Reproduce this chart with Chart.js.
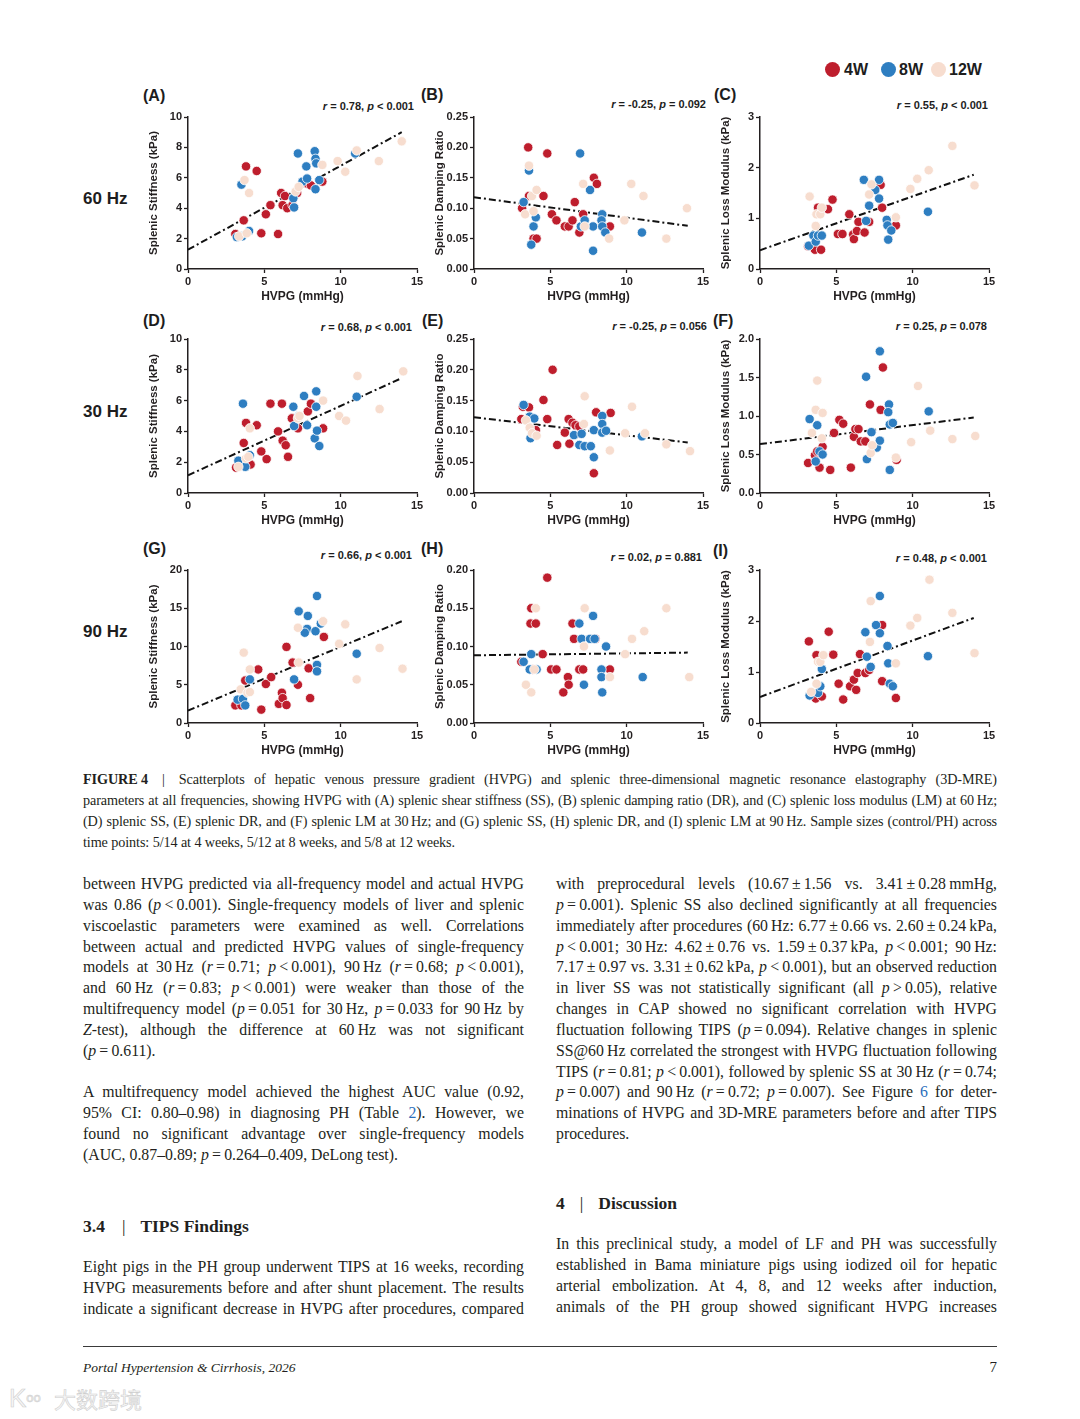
<!DOCTYPE html>
<html>
<head>
<meta charset="utf-8">
<title>Figure 4</title>
<script src="https://cdn.jsdelivr.net/npm/chart.js@4.4.1/dist/chart.umd.min.js"></script>
<style>
	body { margin: 0; background: #fff; }
	#page { position: relative; width: 1080px; height: 1419px; overflow: hidden; font-family: "Liberation Serif", "Times New Roman", serif; color: #231f20; }
	.abs { position: absolute; }
	.sans { font-family: "Liberation Sans", Arial, sans-serif; font-weight: bold; color: #1d1d1d; }
	.plab { font-size: 16px; line-height: 16px; }
	.rtxt { font-size: 11px; line-height: 14px; white-space: nowrap; text-align: right; }
	.freq { font-size: 17px; line-height: 18px; }
	.dot { width: 15px; height: 15px; border-radius: 50%; }
	.leg { font-size: 16px; line-height: 18px; }
	.cap { left: 83px; width: 914px; font-size: 14.2px; line-height: 21px; letter-spacing: -0.1px; }
	.col { width: 441px; font-size: 15.8px; line-height: 20.85px; }
	.j { white-space: nowrap; text-align: justify; text-align-last: justify; }
	.l { white-space: nowrap; }
	.nb { display: inline-block; white-space: nowrap; }
	.blue { color: #2a6ebb; }
	.hd { font-weight: bold; font-size: 17.5px; line-height: 22px; white-space: nowrap; }
	.sep { display: inline-block; margin: 0 14px 0 14px; font-weight: normal; }
	.wm { font-family: "Noto Sans CJK SC", sans-serif; color: #f6f6f6; -webkit-text-stroke: 0.6px #cfcfcf; }
</style>
</head>
<body>
<div id="page">

	<!-- leyenda -->
	<div class="abs dot" id="d4" style="left:825px;top:62px;"></div>
	<div class="abs sans leg" style="left:844px;top:61px;">4W</div>
	<div class="abs dot" id="d8" style="left:881px;top:62px;"></div>
	<div class="abs sans leg" style="left:899px;top:61px;">8W</div>
	<div class="abs dot" id="d12" style="left:931px;top:62px;"></div>
	<div class="abs sans leg" style="left:949px;top:61px;">12W</div>

	<!-- frecuencias -->
	<div class="abs sans freq" style="left:83px;top:190px;">60 Hz</div>
	<div class="abs sans freq" style="left:83px;top:403px;">30 Hz</div>
	<div class="abs sans freq" style="left:83px;top:623px;">90 Hz</div>

	<!-- letras de panel -->
	<div class="abs sans plab" style="left:143px;top:88px;">(A)</div>
	<div class="abs sans plab" style="left:421px;top:87px;">(B)</div>
	<div class="abs sans plab" style="left:714px;top:87px;">(C)</div>
	<div class="abs sans plab" style="left:143px;top:313px;">(D)</div>
	<div class="abs sans plab" style="left:422px;top:313px;">(E)</div>
	<div class="abs sans plab" style="left:713px;top:313px;">(F)</div>
	<div class="abs sans plab" style="left:143px;top:541px;">(G)</div>
	<div class="abs sans plab" style="left:421px;top:541px;">(H)</div>
	<div class="abs sans plab" style="left:713px;top:543px;">(I)</div>

	<!-- correlaciones -->
	<div class="abs sans rtxt" style="right:666px;top:99px;"><i>r</i> = 0.78, <i>p</i> &lt; 0.001</div>
	<div class="abs sans rtxt" style="right:374px;top:97px;"><i>r</i> = -0.25, <i>p</i> = 0.092</div>
	<div class="abs sans rtxt" style="right:92px;top:98px;"><i>r</i> = 0.55, <i>p</i> &lt; 0.001</div>
	<div class="abs sans rtxt" style="right:668px;top:320px;"><i>r</i> = 0.68, <i>p</i> &lt; 0.001</div>
	<div class="abs sans rtxt" style="right:373px;top:319px;"><i>r</i> = -0.25, <i>p</i> = 0.056</div>
	<div class="abs sans rtxt" style="right:93px;top:319px;"><i>r</i> = 0.25, <i>p</i> = 0.078</div>
	<div class="abs sans rtxt" style="right:668px;top:548px;"><i>r</i> = 0.66, <i>p</i> &lt; 0.001</div>
	<div class="abs sans rtxt" style="right:378px;top:550px;"><i>r</i> = 0.02, <i>p</i> = 0.881</div>
	<div class="abs sans rtxt" style="right:93px;top:551px;"><i>r</i> = 0.48, <i>p</i> &lt; 0.001</div>

	<!-- pie de figura -->
	<div class="abs cap" style="top:769px;">
		<div class="j"><b class="nb">FIGURE 4</b><span class="sep">|</span>Scatterplots of hepatic venous pressure gradient (HVPG) and splenic three-dimensional magnetic resonance elastography (3D-MRE)</div>
		<div class="j">parameters at all frequencies, showing HVPG with (A) splenic shear stiffness (SS), (B) splenic damping ratio (DR), and (C) splenic loss modulus (LM) at 60&#8239;Hz;</div>
		<div class="j">(D) splenic SS, (E) splenic DR, and (F) splenic LM at 30&#8239;Hz; and (G) splenic SS, (H) splenic DR, and (I) splenic LM at 90&#8239;Hz. Sample sizes (control/PH) across</div>
		<div class="l">time points: 5/14 at 4 weeks, 5/12 at 8 weeks, and 5/8 at 12 weeks.</div>
	</div>

	<!-- columna izquierda -->
	<div class="abs col" style="left:83px;top:874px;">
		<div class="j">between HVPG predicted via all-frequency model and actual HVPG</div>
		<div class="j">was 0.86 (<i>p</i>&#8201;&lt;&#8201;0.001). Single-frequency models of liver and splenic</div>
		<div class="j">viscoelastic parameters were examined as well. Correlations</div>
		<div class="j">between actual and predicted HVPG values of single-frequency</div>
		<div class="j">models at 30&#8239;Hz (<i>r</i>&#8201;=&#8201;0.71; <i>p</i>&#8201;&lt;&#8201;0.001), 90&#8239;Hz (<i>r</i>&#8201;=&#8201;0.68; <i>p</i>&#8201;&lt;&#8201;0.001),</div>
		<div class="j">and 60&#8239;Hz (<i>r</i>&#8201;=&#8201;0.83; <i>p</i>&#8201;&lt;&#8201;0.001) were weaker than those of the</div>
		<div class="j">multifrequency model (<i>p</i>&#8201;=&#8201;0.051 for 30&#8239;Hz, <i>p</i>&#8201;=&#8201;0.033 for 90&#8239;Hz by</div>
		<div class="j"><i>Z</i>-test), although the difference at 60&#8239;Hz was not significant</div>
		<div class="l">(<i>p</i>&#8201;=&#8201;0.611).</div>
	</div>
	<div class="abs col" style="left:83px;top:1082px;">
		<div class="j">A multifrequency model achieved the highest AUC value (0.92,</div>
		<div class="j">95% CI: 0.80–0.98) in diagnosing PH (Table <span class="blue">2</span>). However, we</div>
		<div class="j">found no significant advantage over single-frequency models</div>
		<div class="l">(AUC, 0.87–0.89; <i>p</i>&#8201;=&#8201;0.264–0.409, DeLong test).</div>
	</div>
	<div class="abs hd" style="left:83px;top:1215px;">3.4<span class="sep" style="margin:0 15px 0 17px;">|</span>TIPS Findings</div>
	<div class="abs col" style="left:83px;top:1257px;">
		<div class="j">Eight pigs in the PH group underwent TIPS at 16 weeks, recording</div>
		<div class="j">HVPG measurements before and after shunt placement. The results</div>
		<div class="j">indicate a significant decrease in HVPG after procedures, compared</div>
	</div>

	<!-- columna derecha -->
	<div class="abs col" style="left:556px;top:874px;">
		<div class="j">with preprocedural levels (10.67&#8201;±&#8201;1.56 vs. 3.41&#8201;±&#8201;0.28&#8239;mmHg,</div>
		<div class="j"><i>p</i>&#8201;=&#8201;0.001). Splenic SS also declined significantly at all frequencies</div>
		<div class="j">immediately after procedures (60&#8239;Hz: 6.77&#8201;±&#8201;0.66 vs. 2.60&#8201;±&#8201;0.24&#8239;kPa,</div>
		<div class="j"><i>p</i>&#8201;&lt;&#8201;0.001; 30&#8239;Hz: 4.62&#8201;±&#8201;0.76 vs. 1.59&#8201;±&#8201;0.37&#8239;kPa, <i>p</i>&#8201;&lt;&#8201;0.001; 90&#8239;Hz:</div>
		<div class="j">7.17&#8201;±&#8201;0.97 vs. 3.31&#8201;±&#8201;0.62&#8239;kPa, <i>p</i>&#8201;&lt;&#8201;0.001), but an observed reduction</div>
		<div class="j">in liver SS was not statistically significant (all <i>p</i>&#8201;&gt;&#8201;0.05), relative</div>
		<div class="j">changes in CAP showed no significant correlation with HVPG</div>
		<div class="j">fluctuation following TIPS (<i>p</i>&#8201;=&#8201;0.094). Relative changes in splenic</div>
		<div class="j">SS@60&#8239;Hz correlated the strongest with HVPG fluctuation following</div>
		<div class="j">TIPS (<i>r</i>&#8201;=&#8201;0.81; <i>p</i>&#8201;&lt;&#8201;0.001), followed by splenic SS at 30&#8239;Hz (<i>r</i>&#8201;=&#8201;0.74;</div>
		<div class="j"><i>p</i>&#8201;=&#8201;0.007) and 90&#8239;Hz (<i>r</i>&#8201;=&#8201;0.72; <i>p</i>&#8201;=&#8201;0.007). See Figure <span class="blue">6</span> for deter-</div>
		<div class="j">minations of HVPG and 3D-MRE parameters before and after TIPS</div>
		<div class="l">procedures.</div>
	</div>
	<div class="abs hd" style="left:556px;top:1192px;">4<span class="sep" style="margin:0 15px 0 15px;">|</span>Discussion</div>
	<div class="abs col" style="left:556px;top:1234px;">
		<div class="j">In this preclinical study, a model of LF and PH was successfully</div>
		<div class="j">established in Bama miniature pigs using iodized oil for hepatic</div>
		<div class="j">arterial embolization. At 4, 8, and 12 weeks after induction,</div>
		<div class="j">animals of the PH group showed significant HVPG increases</div>
	</div>

	<!-- pie de pagina -->
	<div class="abs" style="left:83px;top:1346px;width:914px;height:1px;background:#3a3a3a;"></div>
	<div class="abs" style="left:83px;top:1359px;font-size:13.5px;line-height:18px;font-style:italic;">Portal Hypertension &amp; Cirrhosis, 2026</div>
	<div class="abs" style="right:83px;top:1358px;font-size:15px;line-height:18px;">7</div>
	<div class="abs wm" style="left:9px;top:1383px;font-size:26px;line-height:30px;font-family:'Liberation Sans',sans-serif;">K<span style="font-size:13px;vertical-align:top;">oo</span></div>
	<div class="abs wm" style="left:54px;top:1384px;font-size:22px;line-height:28px;">大数跨境</div>
</div>

<script>
	// colores por grupo
	var RED = "#BE1E2D";
	var BLUE = "#2E7EC1";
	var PEACH = "#F7DDCF";
	var INK = "#231f20";

	var XTITLE = "HVPG (mmHg)";

	// datos: [HVPG, valor]
	// 60 Hz
	var A_4W = [[3.1,2.3],[3.65,3.2],[3.8,6.75],[4.5,6.45],[4.8,2.35],[5.1,3.6],[5.4,4.2],[5.9,2.3],[6.1,5.0],[6.2,4.2],[6.35,4.8],[6.5,4.0],[6.85,4.2],[7.15,5.0],[7.85,5.6],[8.05,5.5],[8.8,5.75]];
	var A_8W = [[3.2,2.1],[3.55,2.15],[4.0,2.5],[3.5,5.55],[6.9,4.65],[6.95,4.05],[7.2,7.6],[7.75,6.75],[7.5,5.75],[7.8,5.95],[8.3,7.75],[8.35,7.25],[8.4,6.95],[8.35,5.25],[8.6,5.85],[10.95,7.6]];
	var A_12W = [[3.35,2.15],[3.85,2.35],[3.7,5.85],[4.0,5.0],[7.05,5.1],[7.25,5.4],[8.8,6.85],[9.8,7.1],[10.3,6.4],[11.05,7.8],[12.5,7.1],[14.0,8.4]];
	var A_FIT = [[0,1.27],[14,9.0]];

	var B_4W = [[3.55,0.20],[4.8,0.19],[3.15,0.10],[3.6,0.12],[4.55,0.12],[3.9,0.05],[4.1,0.05],[5.1,0.09],[5.4,0.08],[5.95,0.07],[6.2,0.07],[6.45,0.08],[6.6,0.11],[6.9,0.06],[7.15,0.09],[7.85,0.15],[8.05,0.14],[8.9,0.07]];
	var B_8W = [[3.25,0.11],[3.6,0.162],[3.9,0.07],[4.05,0.085],[3.75,0.04],[6.95,0.19],[7.0,0.07],[7.25,0.08],[7.6,0.13],[7.8,0.07],[7.8,0.03],[8.4,0.09],[8.35,0.08],[8.4,0.07],[8.6,0.06],[11.0,0.06]];
	var B_12W = [[3.6,0.17],[3.35,0.09],[3.8,0.12],[4.1,0.13],[3.9,0.095],[7.15,0.14],[7.25,0.07],[8.85,0.05],[9.85,0.08],[10.3,0.14],[11.1,0.12],[12.6,0.05],[13.95,0.10]];
	var B_FIT = [[0,0.118],[14,0.071]];

	var C_4W = [[3.15,0.45],[3.6,0.38],[4.0,0.38],[3.8,1.21],[4.75,1.37],[4.45,1.18],[5.1,0.69],[5.4,0.69],[5.85,1.08],[6.1,0.68],[6.15,0.59],[6.45,0.93],[6.35,0.75],[6.85,0.72],[7.15,0.93],[7.9,1.66],[8.0,1.21],[8.9,0.86]];
	var C_8W = [[3.2,0.46],[3.5,0.66],[3.65,0.54],[3.8,0.66],[4.05,0.66],[6.8,1.76],[6.95,0.95],[7.15,1.25],[7.55,1.56],[7.8,1.76],[7.8,1.39],[8.3,0.97],[8.35,0.86],[8.6,0.76],[8.4,0.58],[11.0,1.13]];
	var C_12W = [[3.25,1.43],[3.65,0.85],[3.7,1.08],[3.95,1.08],[4.05,1.21],[7.3,1.67],[7.15,1.47],[8.9,1.02],[9.85,1.58],[10.3,1.78],[11.05,1.95],[12.6,2.43],[14.05,1.65]];
	var C_FIT = [[0,0.37],[14,1.86]];

	// 30 Hz
	var D_4W = [[3.15,1.65],[3.65,3.25],[3.8,4.55],[4.5,4.4],[4.1,1.85],[4.8,2.7],[5.15,2.2],[5.4,5.8],[5.9,4.0],[6.15,5.8],[6.2,3.4],[6.4,3.1],[6.55,2.35],[6.8,4.85],[7.2,4.2],[7.85,5.3],[8.05,5.8],[8.85,4.2]];
	var D_8W = [[3.3,2.1],[3.6,5.8],[3.75,1.7],[4.05,2.45],[6.9,5.6],[6.95,4.35],[7.25,5.0],[7.6,6.3],[7.8,4.4],[8.3,3.55],[8.4,5.6],[8.4,6.6],[8.45,4.05],[8.6,3.05],[11.05,6.25]];
	var D_12W = [[3.3,1.7],[3.8,2.25],[3.95,2.35],[4.05,4.2],[7.2,4.85],[7.3,5.0],[8.85,6.0],[9.9,5.0],[10.35,4.7],[11.1,7.6],[12.55,5.45],[14.1,7.9]];
	var D_FIT = [[0,1.15],[14,7.46]];

	var E_4W = [[3.2,0.14],[3.6,0.139],[3.1,0.12],[4.05,0.102],[4.55,0.151],[4.8,0.12],[5.15,0.20],[5.45,0.078],[5.95,0.098],[6.2,0.12],[6.25,0.08],[6.45,0.114],[6.65,0.11],[6.9,0.108],[8.0,0.131],[7.85,0.032],[8.95,0.13]];
	var E_8W = [[3.25,0.143],[3.65,0.124],[3.95,0.121],[3.7,0.089],[6.55,0.094],[7.05,0.096],[6.9,0.078],[7.25,0.076],[7.65,0.076],[7.85,0.102],[7.85,0.058],[8.4,0.125],[8.4,0.112],[8.4,0.098],[8.65,0.101],[11.0,0.092]];
	var E_12W = [[3.4,0.118],[3.65,0.106],[3.8,0.097],[4.1,0.093],[7.25,0.157],[7.2,0.112],[8.9,0.069],[9.9,0.097],[10.35,0.14],[11.2,0.097],[12.6,0.079],[14.15,0.068]];
	var E_FIT = [[0,0.123],[14,0.082]];

	var F_4W = [[3.15,0.39],[3.6,0.49],[3.75,0.54],[3.9,0.33],[4.1,0.6],[4.6,0.3],[4.85,0.78],[5.2,0.95],[5.45,0.9],[5.95,0.33],[6.15,0.73],[6.25,0.83],[6.45,0.83],[6.6,0.67],[6.9,0.67],[7.2,1.15],[7.9,1.08],[8.05,1.63],[8.95,0.43]];
	var F_8W = [[3.25,0.96],[3.65,0.41],[3.75,0.88],[3.9,0.54],[4.1,0.5],[6.95,1.51],[7.0,0.44],[7.3,0.79],[7.65,0.59],[7.85,0.68],[7.85,1.84],[8.45,1.15],[8.4,1.05],[8.5,0.89],[8.7,0.91],[8.5,0.3],[11.05,1.06]];
	var F_12W = [[3.4,0.78],[3.65,1.08],[3.75,1.46],[4.05,0.71],[4.1,1.04],[7.25,0.52],[7.35,0.62],[8.9,0.46],[9.9,0.66],[10.35,1.39],[11.15,0.81],[12.6,0.7],[14.1,0.74]];
	var F_FIT = [[0,0.635],[14,0.98]];

	// 90 Hz
	var G_4W = [[3.1,2.3],[3.5,2.3],[3.75,5.55],[4.6,7.0],[4.8,1.75],[5.1,5.1],[5.45,6.0],[5.95,2.5],[6.15,3.95],[6.2,3.25],[6.45,2.35],[6.45,9.95],[6.85,7.9],[7.2,5.0],[7.9,7.15],[8.0,3.25],[8.9,11.25]];
	var G_8W = [[3.25,3.05],[3.6,3.15],[3.75,2.3],[4.05,5.7],[6.95,5.7],[7.25,14.6],[7.85,14.0],[7.8,12.3],[7.65,11.8],[8.35,12.0],[8.45,16.6],[8.7,13.0],[8.45,7.6],[8.45,6.75],[11.05,9.05]];
	var G_12W = [[3.45,4.4],[3.65,9.2],[3.9,3.95],[4.05,4.05],[4.05,7.0],[7.2,12.45],[7.25,7.9],[8.85,13.3],[9.9,10.35],[10.3,12.9],[11.05,5.7],[12.55,9.8],[14.05,7.1]];
	var G_FIT = [[0,1.62],[14,13.3]];

	var H_4W = [[3.1,0.08],[3.75,0.15],[3.7,0.13],[4.05,0.13],[3.85,0.07],[4.8,0.19],[4.5,0.09],[5.05,0.07],[5.4,0.07],[6.15,0.06],[6.2,0.05],[5.85,0.04],[6.45,0.13],[6.55,0.11],[6.9,0.07],[7.15,0.07],[7.95,0.11],[8.9,0.07]];
	var H_8W = [[3.25,0.08],[3.75,0.09],[3.65,0.07],[4.1,0.07],[6.9,0.13],[7.05,0.11],[7.2,0.05],[7.8,0.14],[7.6,0.11],[7.9,0.11],[8.65,0.10],[8.35,0.07],[8.35,0.06],[8.4,0.04],[11.05,0.06]];
	var H_12W = [[3.4,0.05],[3.75,0.04],[3.95,0.07],[4.05,0.15],[7.2,0.10],[7.25,0.15],[8.9,0.06],[9.9,0.09],[10.35,0.11],[11.15,0.12],[12.6,0.15],[14.1,0.06]];
	var H_FIT = [[0,0.0885],[14,0.092]];

	var I_4W = [[3.2,1.6],[3.7,1.33],[3.65,0.48],[4.05,0.52],[4.5,1.79],[4.8,1.34],[5.15,0.77],[5.45,0.46],[5.9,0.72],[6.15,0.85],[6.3,0.65],[6.4,0.98],[6.55,1.35],[6.9,0.98],[7.15,1.04],[8.0,1.92],[8.0,0.82],[8.9,0.49]];
	var I_8W = [[3.25,0.54],[3.8,0.59],[3.95,0.72],[4.05,1.06],[6.9,1.78],[7.0,1.3],[7.25,1.1],[7.6,1.92],[7.85,1.76],[7.85,2.49],[8.35,1.51],[8.4,1.17],[8.5,0.77],[8.7,0.72],[11.0,1.31]];
	var I_12W = [[3.35,0.61],[3.7,0.77],[3.8,1.2],[3.95,1.2],[4.15,1.33],[7.25,2.39],[7.2,1.59],[8.9,1.17],[9.85,1.91],[10.3,2.06],[11.1,2.81],[12.6,2.16],[14.05,1.37]];
	var I_FIT = [[0,0.51],[14,2.06]];

	// ejes y de cada panel
	var SS = "Splenic Stiffness (kPa)";
	var DR = "Splenic Damping Ratio";
	var LM = "Splenic Loss Modulus (kPa)";

	var panels = [
		{ yTitle: SS, yMax: 10, yStep: 2, dec: 0, w4: A_4W, w8: A_8W, w12: A_12W, fit: A_FIT },
		{ yTitle: DR, yMax: 0.25, yStep: 0.05, dec: 2, w4: B_4W, w8: B_8W, w12: B_12W, fit: B_FIT },
		{ yTitle: LM, yMax: 3, yStep: 1, dec: 0, w4: C_4W, w8: C_8W, w12: C_12W, fit: C_FIT },
		{ yTitle: SS, yMax: 10, yStep: 2, dec: 0, w4: D_4W, w8: D_8W, w12: D_12W, fit: D_FIT },
		{ yTitle: DR, yMax: 0.25, yStep: 0.05, dec: 2, w4: E_4W, w8: E_8W, w12: E_12W, fit: E_FIT },
		{ yTitle: LM, yMax: 2, yStep: 0.5, dec: 1, w4: F_4W, w8: F_8W, w12: F_12W, fit: F_FIT },
		{ yTitle: SS, yMax: 20, yStep: 5, dec: 0, w4: G_4W, w8: G_8W, w12: G_12W, fit: G_FIT },
		{ yTitle: DR, yMax: 0.20, yStep: 0.05, dec: 2, w4: H_4W, w8: H_8W, w12: H_12W, fit: H_FIT },
		{ yTitle: LM, yMax: 3, yStep: 1, dec: 0, w4: I_4W, w8: I_8W, w12: I_12W, fit: I_FIT }
	];

	// posicion de las areas de grafico
	var cols = [188, 474, 760];
	var rows = [117, 339, 570];
	var rowH = [152, 154, 153];
	var plotW = 229;
	var padL = 60, padT = 12, padR = 14, padB = 40;

	document.getElementById('d4').style.background = RED;
	document.getElementById('d8').style.background = BLUE;
	document.getElementById('d12').style.background = PEACH;

	function toXY(arr) {
		return arr.map(function (p) { return { x: p[0], y: p[1] }; });
	}

	function puntos(data, color, order) {
		return {
			data: toXY(data),
			backgroundColor: color,
			borderColor: "#ffffff",
			borderWidth: 0.8,
			pointRadius: 4.7,
			order: order
		};
	}

	var tickFont = { family: "Liberation Sans, Arial, sans-serif", size: 11, weight: "bold" };
	var titleFont = { family: "Liberation Sans, Arial, sans-serif", size: 11.5, weight: "bold" };

	var page = document.getElementById('page');

	panels.forEach(function (p, i) {
		var c = i % 3, r = Math.floor(i / 3);
		var w = padL + plotW + padR;
		var h = padT + rowH[r] + padB;
		var cv = document.createElement('canvas');
		cv.className = 'abs';
		cv.width = w;
		cv.height = h;
		cv.style.left = (cols[c] - padL) + 'px';
		cv.style.top = (rows[r] - padT) + 'px';
		cv.style.width = w + 'px';
		cv.style.height = h + 'px';
		page.appendChild(cv);

		new Chart(cv.getContext('2d'), {
			type: 'scatter',
			data: {
				datasets: [
					puntos(p.w4, RED, 3),
					puntos(p.w8, BLUE, 2),
					puntos(p.w12, PEACH, 1),
					{
						data: toXY(p.fit),
						showLine: true,
						borderColor: "#111111",
						borderWidth: 2,
						borderDash: [7, 3, 2, 3],
						pointRadius: 0,
						order: 4
					}
				]
			},
			options: {
				responsive: false,
				animation: false,
				events: [],
				layout: { padding: { left: 0, top: padT, right: padR, bottom: 0 } },
				plugins: { legend: { display: false }, tooltip: { enabled: false } },
				scales: {
					x: {
						type: 'linear', min: 0, max: 15,
						ticks: { stepSize: 5, font: tickFont, color: INK, padding: 2, maxRotation: 0 },
						grid: { drawOnChartArea: false, tickLength: 4, tickColor: INK, tickWidth: 1.3 },
						border: { color: INK, width: 1.5 },
						title: { display: true, text: XTITLE, font: { family: titleFont.family, size: 12, weight: "bold" }, color: INK, padding: { top: 0, bottom: 5 } },
						afterFit: function (s) { s.height = padB; }
					},
					y: {
						type: 'linear', min: 0, max: p.yMax,
						ticks: {
							stepSize: p.yStep, font: tickFont, color: INK, padding: 2,
							callback: function (v) { return Number(v).toFixed(p.dec); }
						},
						grid: { drawOnChartArea: false, tickLength: 4, tickColor: INK, tickWidth: 1.3 },
						border: { color: INK, width: 1.5 },
						title: { display: true, text: p.yTitle, font: titleFont, color: INK, padding: { top: 19, bottom: 0 } },
						afterFit: function (s) { s.width = padL; }
					}
				}
			}
		});
	});
</script>
</body>
</html>
